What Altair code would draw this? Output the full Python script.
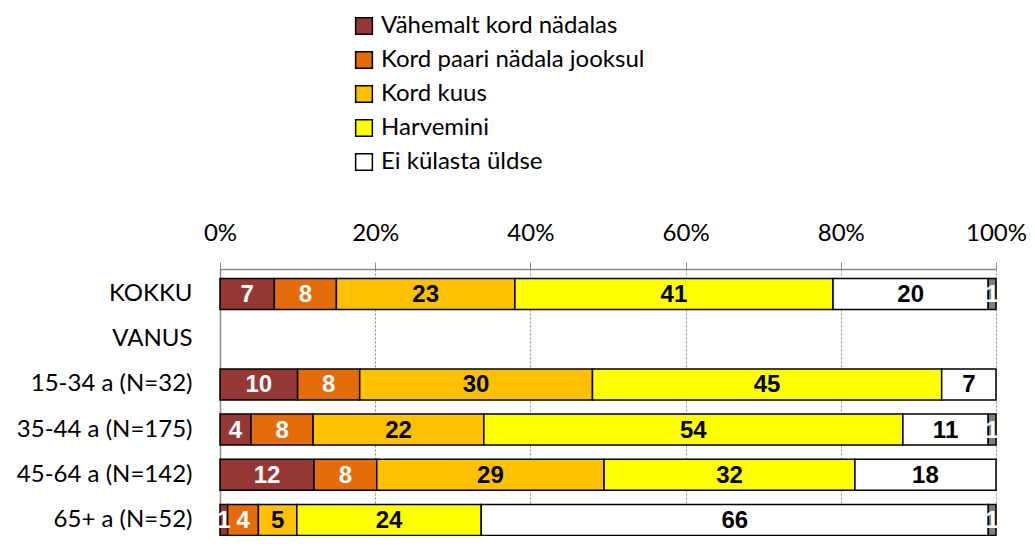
import altair as alt
import pandas as pd

# ---- data ----
groups = ["KOKKU", "VANUS", "15-34 a (N=32)", "35-44 a (N=175)", "45-64 a (N=142)", "65+ a (N=52)"]
data_groups = ["KOKKU", "15-34 a (N=32)", "35-44 a (N=175)", "45-64 a (N=142)", "65+ a (N=52)"]
series = ["Vähemalt kord nädalas", "Kord paari nädala jooksul", "Kord kuus",
          "Harvemini", "Ei külasta üldse", "Ei oska öelda"]
legend_series = series[:5]

weekly   = [7, 10, 4, 12, 1]
biweekly = [8, 8, 8, 8, 4]
monthly  = [23, 30, 22, 29, 5]
rarely   = [41, 45, 54, 32, 24]
never    = [20, 7, 11, 18, 66]
unknown  = [1, 0, 1, 0, 1]

colors = ["#953735", "#E46C0A", "#FFC000", "#FFFF00", "#FFFFFF", "#7F7F7F"]
white_label_series = ["Vähemalt kord nädalas", "Kord paari nädala jooksul", "Ei oska öelda"]

rows = []
for si, vals in enumerate([weekly, biweekly, monthly, rarely, never, unknown]):
    for g, v in zip(data_groups, vals):
        if v > 0:
            rows.append({"group": g, "series": series[si], "order": si, "value": v})
df = pd.DataFrame(rows)

LABEL_FONT = "Lato"
BAR_FONT = "Liberation Sans"

base = (
    alt.Chart(df)
    .transform_joinaggregate(total="sum(value)", groupby=["group"])
    .transform_window(cum="sum(value)", sort=[alt.SortField("order")],
                      groupby=["group"], frame=[None, 0])
    .transform_calculate(
        start="(datum.cum - datum.value) / datum.total",
        end="datum.cum / datum.total",
        mid="(datum.cum - datum.value / 2) / datum.total",
    )
)

y_enc = alt.Y("group:N",
              scale=alt.Scale(domain=groups, paddingInner=0.314, paddingOuter=0.21, range=[0, 276]),
              axis=alt.Axis(title=None, ticks=False, domainColor="#8C8C8C", domainWidth=1.5,
                            labelFontSize=24, labelFont=LABEL_FONT, labelColor="black",
                            labelPadding=28, grid=False))

bars = base.mark_bar(stroke="black", strokeWidth=1.5).encode(
    x=alt.X("start:Q", scale=alt.Scale(domain=[0, 1], nice=False),
            axis=alt.Axis(orient="top", format=".0%", values=[0, 0.2, 0.4, 0.6, 0.8, 1.0],
                          title=None, labelFontSize=24, labelFont=LABEL_FONT, labelColor="black",
                          labelFlush=False, labelPadding=17, tickSize=7, tickColor="#8C8C8C",
                          domainColor="#8C8C8C", domainWidth=1.5, grid=True,
                          gridColor="#8C8C8C", gridDash=[2, 2], gridWidth=1)),
    x2="end:Q",
    y=y_enc,
    color=alt.Color("series:N", scale=alt.Scale(domain=series, range=colors),
                    legend=alt.Legend(values=legend_series, title=None, orient="none",
                                      legendX=132, legendY=-255, direction="vertical",
                                      symbolType="square", symbolSize=280,
                                      symbolStrokeColor="black", symbolStrokeWidth=1.5,
                                      labelFontSize=24, labelFont=LABEL_FONT, labelColor="black",
                                      rowPadding=10, labelOffset=5, labelLimit=500)),
)

labels = base.mark_text(font=BAR_FONT, fontWeight="bold", fontSize=24, baseline="middle",
                        align="center", dy=1).encode(
    x="mid:Q",
    y=alt.Y("group:N"),
    text=alt.Text("value:Q"),
    color=alt.condition(
        "indexof(" + str(white_label_series) + ", datum.series) >= 0",
        alt.value("white"), alt.value("black")),
)

chart = (
    alt.layer(bars, labels)
    .properties(width=776, height=267,
                padding={"left": 212, "top": 261, "right": 31, "bottom": 0},
                autosize=alt.AutoSizeParams(type="none"))
    .configure_view(stroke=None)
)

chart.save("out.html", embed_options={"renderer": "svg", "actions": False})
